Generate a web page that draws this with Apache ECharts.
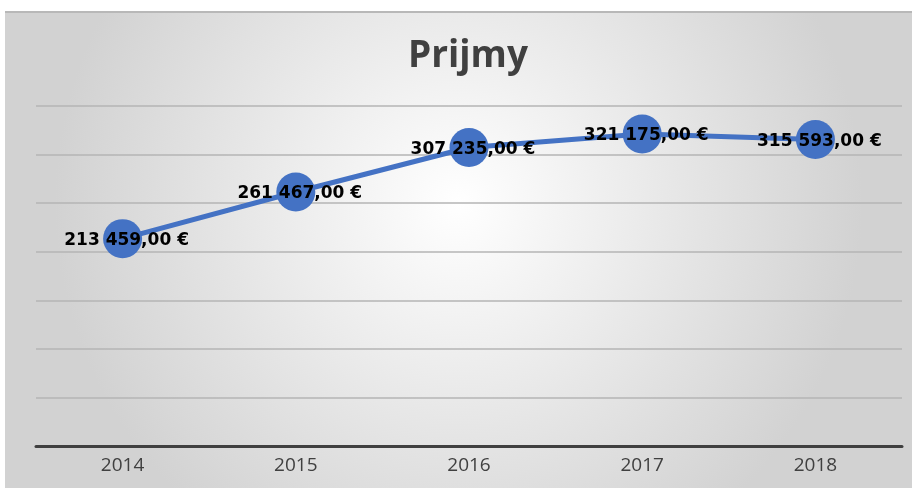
<!DOCTYPE html>
<html>
<head>
<meta charset="utf-8">
<script src="https://cdn.jsdelivr.net/npm/echarts@6/dist/echarts.min.js"></script>
<style>
  html, body { margin: 0; padding: 0; background: #fff; }
  #chart {
    position: absolute;
    left: 5px;
    top: 11px;
    width: 907px;
    height: 477px;
    border-top: 2px solid #b8b8b8;
    box-sizing: border-box;
  }
</style>
</head>
<body>
<div id="chart"></div>
<script>
const years = ['2014', '2015', '2016', '2017', '2018']
const incomes = [213459, 261467, 307235, 321175, 315593]
const yMin = 0
const yMax = 350000
const yStep = 50000

const formatEuro = (v) => {
  const parts = v.toFixed(2).split('.')
  const whole = parts[0].replace(/\B(?=(\d{3})+(?!\d))/g, ' ')
  return whole + ',' + parts[1] + ' €'
}

const chart = echarts.init(document.getElementById('chart'))

const option = {
  backgroundColor: new echarts.graphic.RadialGradient(0.5, 0.4, 0.85, [
    { offset: 0, color: '#ffffff' },
    { offset: 1, color: '#d2d2d2' }
  ]),
  title: {
    text: 'Prijmy',
    left: 398,
    top: 20,
    textStyle: {
      color: '#404040',
      fontSize: 37,
      fontWeight: 'bold',
      fontFamily: 'Open Sans'
    }
  },
  grid: {
    left: 31,
    right: 10,
    top: 93,
    bottom: 42
  },
  xAxis: {
    type: 'category',
    data: years,
    boundaryGap: true,
    axisLine: {
      lineStyle: { color: '#404040', width: 3 }
    },
    axisTick: { show: false },
    axisLabel: {
      color: '#404040',
      fontSize: 19,
      margin: 10,
      fontFamily: 'Open Sans'
    }
  },
  yAxis: {
    type: 'value',
    min: yMin,
    max: yMax,
    interval: yStep,
    axisLine: { show: false },
    axisTick: { show: false },
    axisLabel: { show: false },
    splitLine: {
      lineStyle: { color: '#b4b4b4', width: 1.5 }
    }
  },
  series: [
    {
      type: 'line',
      data: incomes,
      symbol: 'circle',
      symbolSize: 39,
      itemStyle: { color: '#4472C4' },
      lineStyle: { color: '#4472C4', width: 5 },
      label: {
        show: true,
        position: 'inside',
        offset: [4, 2],
        color: '#000',
        fontSize: 17,
        fontWeight: 'bold',
        fontFamily: 'DejaVu Sans',
        formatter: (p) => formatEuro(p.value)
      },
      animation: false
    }
  ]
}

chart.setOption(option)
</script>
</body>
</html>
